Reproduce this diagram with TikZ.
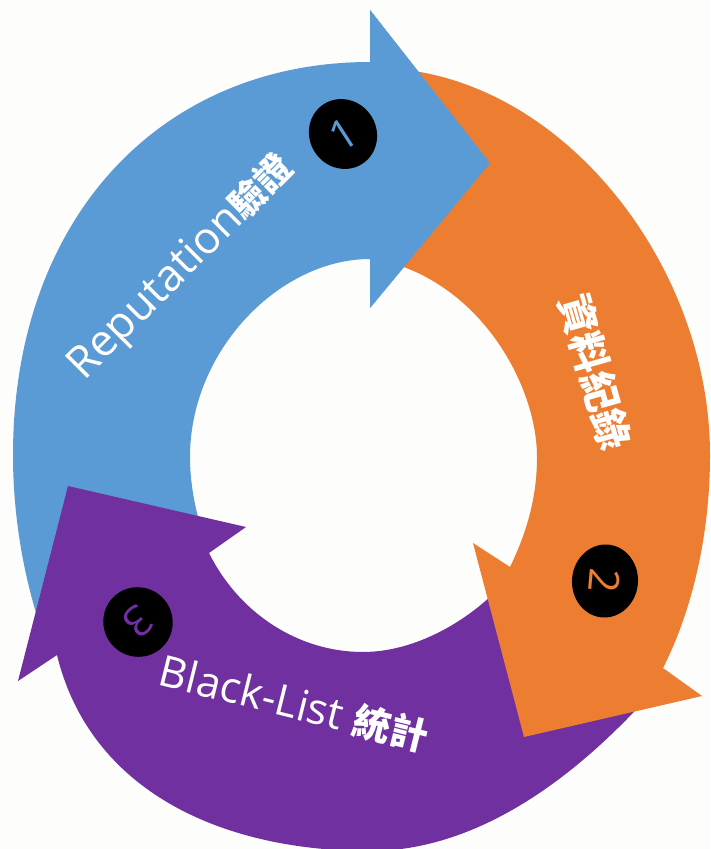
\documentclass[tikz,border=0pt]{standalone}
\usepackage{fontspec}
\usepackage{xcolor}
\usepackage{tikz}
\usetikzlibrary{shapes.geometric, positioning}
\setmainfont{Open Sans}
\newfontfamily\cjk{Noto Sans CJK TC}
\definecolor{cycblue}{RGB}{91, 155, 213}
\definecolor{cycorange}{RGB}{237, 125, 49}
\definecolor{cycpurple}{RGB}{112, 48, 160}
\definecolor{cycbg}{RGB}{253, 253, 251}
\newcommand{\zhtext}[2][38]{{\cjk\bfseries\fontsize{#1}{#1}\selectfont #2}}
\tikzset{
  arrowlabel/.style={text=white, inner sep=0pt, font=\fontsize{43}{48}\selectfont},
  badge/.style={ellipse, fill=black, inner sep=0pt, font=\fontsize{42}{42}\selectfont}
}

\begin{document}
\begin{tikzpicture}[x=1pt, y=-1pt]
\useasboundingbox (0,0) rectangle (710,849);
\fill[cycbg] (0,0) rectangle (710,849);
\clip (0,0) rectangle (710,849);

\fill[cycblue] (45,640) .. controls (25,585) and (13,520) .. (13,455)
  .. controls (13,219) and (160,62) .. (370,62)
  -- (370,10) -- (490,163) -- (370,308) -- (370,259)
  .. controls (280,259) and (190,350) .. (190,457)
  .. controls (190,490) and (198,520) .. (205,540) -- cycle;

\fill[cycpurple] (68,486) -- (246,527) -- (209,553)
  .. controls (240,615) and (300,652) .. (363,652)
  .. controls (420,652) and (480,615) .. (515,570)
  -- (645,700)
  .. controls (590,760) and (490,851) .. (370,851)
  .. controls (220,851) and (90,790) .. (57,655)
  -- (18,681) -- cycle;

\fill[cycorange] (375,68) .. controls (555,68) and (710,260) .. (710,455)
  .. controls (710,540) and (690,615) .. (663,668)
  -- (702,696) -- (524,737) -- (473,543) -- (510,567)
  .. controls (528,530) and (537,495) .. (537,457)
  .. controls (537,385) and (480,282) .. (380,260) -- cycle;

\fill[cycblue] (370,10) -- (490,163) -- (370,308) -- cycle;

\node[arrowlabel, rotate=45, font=\fontsize{44}{48}\selectfont] (replabel) at (182,268) {Reputation\zhtext[36]{驗證}};
\node[arrowlabel, rotate=-74] (reclabel) at (595,372) {\zhtext[40]{資料紀錄}};
\node[arrowlabel, rotate=-14] (bllabel) at (294,704) {Black-List \zhtext{統計}};

\node[badge, text=cycblue, rotate=33, minimum width=67pt, minimum height=71pt] (step1) at (343,134) {1};
\node[badge, text=cycorange, rotate=-95, minimum width=73pt, minimum height=66pt] (step2) at (605,581) {2};
\node[badge, text=cycpurple, rotate=-140, minimum width=69pt, minimum height=70pt] (step3) at (138,622) {3};
\end{tikzpicture}
\end{document}
